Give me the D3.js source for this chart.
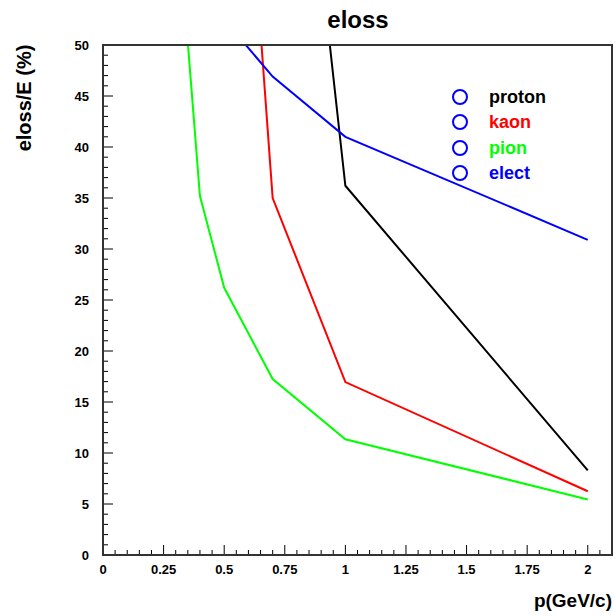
<!DOCTYPE html>
<html><head><meta charset="utf-8">
<script src="https://cdn.jsdelivr.net/npm/d3@7"></script>
<style>body{margin:0;background:#fff;} text{font-family:"Liberation Sans",Arial,Helvetica,sans-serif;font-weight:bold;}</style>
</head><body>
<svg id="c" width="615" height="616"></svg>
<script>
const titleText = "eloss";
const xLabel = "p(GeV/c)";
const yLabel = "eloss/E (%)";
const xTicks = [0, 0.25, 0.5, 0.75, 1, 1.25, 1.5, 1.75, 2];
const xTickLabels = ["0", "0.25", "0.5", "0.75", "1", "1.25", "1.5", "1.75", "2"];
const yTicks = [0, 5, 10, 15, 20, 25, 30, 35, 40, 45, 50];
const seriesNames = ["proton", "kaon", "pion", "elect"];
const seriesColors = ["#000000", "#ff0000", "#00ff00", "#0000ff"];
const protonX = [0.9, 1, 2];
const protonY = [57.7, 36.2, 8.3];
const kaonX = [0.65, 0.7, 1, 2];
const kaonY = [51.3, 35.0, 16.95, 6.25];
const pionX = [0.35, 0.4, 0.5, 0.7, 1, 2];
const pionY = [50.2, 35.2, 26.2, 17.25, 11.35, 5.45];
const electX = [0.5, 0.7, 1, 2];
const electY = [52.5, 46.9, 41.0, 30.9];

const series = [
  {name: seriesNames[0], color: seriesColors[0], x: protonX, y: protonY},
  {name: seriesNames[1], color: seriesColors[1], x: kaonX, y: kaonY},
  {name: seriesNames[2], color: seriesColors[2], x: pionX, y: pionY},
  {name: seriesNames[3], color: seriesColors[3], x: electX, y: electY}
];

const svg = d3.select("#c");
const L = 103, R = 612, T = 45, B = 555;
const x = d3.scaleLinear().domain([0, 2.1]).range([L, R]);
const y = d3.scaleLinear().domain([0, 50]).range([B, T]);

svg.append("defs").append("clipPath").attr("id", "clip")
  .append("rect").attr("x", L).attr("y", T).attr("width", R - L).attr("height", B - T);

// minor + major ticks
const g = svg.append("g");
const xMinor = d3.range(0, 2.1001, 0.05);
g.selectAll("line.xm").data(xMinor).enter().append("line")
  .attr("x1", d => x(d)).attr("x2", d => x(d))
  .attr("y1", B).attr("y2", (d, i) => (i % 5 === 0) ? B - 10 : B - 5)
  .attr("stroke", "#000").attr("stroke-width", 1);
const yMinor = d3.range(0, 50.001, 1);
g.selectAll("line.ym").data(yMinor).enter().append("line")
  .attr("y1", d => y(d)).attr("y2", d => y(d))
  .attr("x1", L).attr("x2", (d, i) => (i % 5 === 0) ? L + 10 : L + 5)
  .attr("stroke", "#000").attr("stroke-width", 1);

// tick labels
g.selectAll("text.xl").data(xTicks).enter().append("text")
  .attr("x", d => x(d)).attr("y", 574).attr("text-anchor", "middle")
  .attr("font-size", 13).text((d, i) => xTickLabels[i]);
g.selectAll("text.yl").data(yTicks).enter().append("text")
  .attr("x", 89).attr("y", d => y(d) + 5).attr("text-anchor", "end")
  .attr("font-size", 13).text(d => d);

// lines
const line = d3.line().x(d => x(d[0])).y(d => y(d[1]));
const lg = svg.append("g").attr("clip-path", "url(#clip)");
series.forEach(s => {
  lg.append("path").datum(s.x.map((v, i) => [v, s.y[i]]))
    .attr("d", line).attr("fill", "none").attr("stroke", s.color).attr("stroke-width", 2);
});

// frame
svg.append("rect").attr("x", L).attr("y", T).attr("width", R - L).attr("height", B - T)
  .attr("fill", "none").attr("stroke", "#333").attr("stroke-width", 2);

// legend
const legY = [97, 122, 148, 173];
series.forEach((s, i) => {
  svg.append("circle").attr("cx", 460).attr("cy", legY[i]).attr("r", 7)
    .attr("fill", "none").attr("stroke", "#0000ff").attr("stroke-width", 2);
  svg.append("text").attr("x", 489).attr("y", legY[i] + 6).attr("font-size", 18)
    .attr("fill", s.color).text(s.name);
});

// titles
svg.append("text").attr("x", 358).attr("y", 28).attr("text-anchor", "middle")
  .attr("font-size", 24).text(titleText);
svg.append("text").attr("transform", "translate(31,98) rotate(-90)")
  .attr("text-anchor", "middle").attr("font-size", 20).text(yLabel);
svg.append("text").attr("x", 612).attr("y", 607).attr("text-anchor", "end")
  .attr("font-size", 19).text(xLabel);
</script>
</body></html>
